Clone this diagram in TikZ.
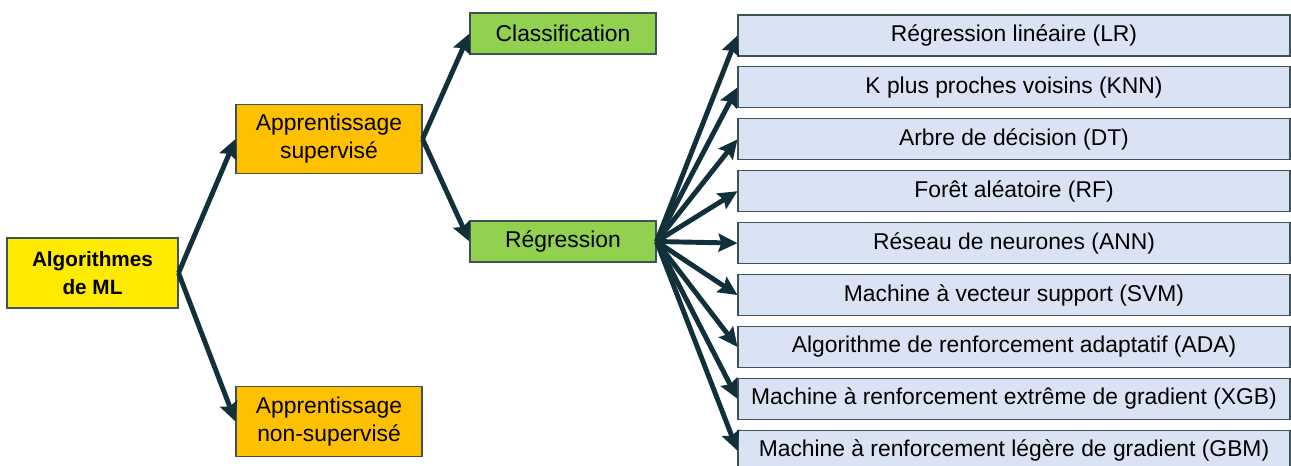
\documentclass[tikz,border=0pt]{standalone}
\usepackage{fontspec}
\setmainfont{Liberation Sans}
\usepackage{xcolor}
\usepackage{tikz}
\usetikzlibrary{arrows.meta, positioning}

\definecolor{mlyellow}{HTML}{FFEB00}
\definecolor{mlorange}{HTML}{FFC000}
\definecolor{mlgreen}{HTML}{92D050}
\definecolor{mlblue}{HTML}{DAE3F3}
\definecolor{mlborder}{HTML}{3F5258}
\definecolor{mlarrow}{HTML}{12303A}

\begin{document}
\begin{tikzpicture}[
    root/.style={rectangle, draw=mlborder, fill=mlyellow, line width=0.6pt, minimum width=3.42cm, minimum height=1.4cm, align=center, font=\fontsize{11.8}{16}\selectfont\bfseries},
    family/.style={rectangle, draw=mlborder, fill=mlorange, line width=0.6pt, minimum width=3.72cm, minimum height=1.39cm, align=center, font=\fontsize{13}{16}\selectfont},
    task/.style={rectangle, draw=mlborder, fill=mlgreen, line width=0.6pt, minimum width=3.72cm, minimum height=0.82cm, align=center, font=\fontsize{13}{16}\selectfont},
    algo/.style={rectangle, draw=mlborder, fill=mlblue, line width=0.6pt, minimum width=11.04cm, minimum height=0.82cm, align=center, font=\fontsize{13}{16}\selectfont},
    arrow/.style={-{Stealth[length=0.38cm, width=0.36cm, inset=0.06cm]}, line width=2.8pt, mlarrow}
]
\useasboundingbox (0,0) rectangle (25.82,-9.32);

% Root
\node[root] (ml) at (1.85,-5.46) {Algorithmes\\de ML};

% Learning families
\node[family] (sup) at (6.58,-2.78) {Apprentissage\\supervisé};
\node[family] (nonsup) at (6.58,-8.43) {Apprentissage\\non-supervisé};

% Tasks
\node[task] (classif) at (11.26,-0.67) {Classification};
\node[task] (regr) at (11.26,-4.83) {Régression};

% Regression algorithms
\node[algo] (lr) at (20.28,-0.71) {Régression linéaire (LR)};
\node[algo, below=0.197cm of lr] (knn) {K plus proches voisins (KNN)};
\node[algo, below=0.197cm of knn] (dt) {Arbre de décision (DT)};
\node[algo, below=0.197cm of dt] (rf) {Forêt aléatoire (RF)};
\node[algo, below=0.197cm of rf] (ann) {Réseau de neurones (ANN)};
\node[algo, below=0.197cm of ann] (svm) {Machine à vecteur support (SVM)};
\node[algo, below=0.197cm of svm] (ada) {Algorithme de renforcement adaptatif (ADA)};
\node[algo, below=0.197cm of ada] (xgb) {Machine à renforcement extrême de gradient (XGB)};
\node[algo, below=0.197cm of xgb] (gbm) {Machine à renforcement légère de gradient (GBM)};

% Arrows
\draw[arrow] (ml.east) -- (sup.west);
\draw[arrow] (ml.east) -- (nonsup.west);
\draw[arrow] (sup.east) -- (classif.west);
\draw[arrow] (sup.east) -- (regr.west);
\foreach \target in {lr, knn, dt, rf, ann, svm, ada, xgb, gbm}
    \draw[arrow] (regr.east) -- (\target.west);

\end{tikzpicture}
\end{document}
